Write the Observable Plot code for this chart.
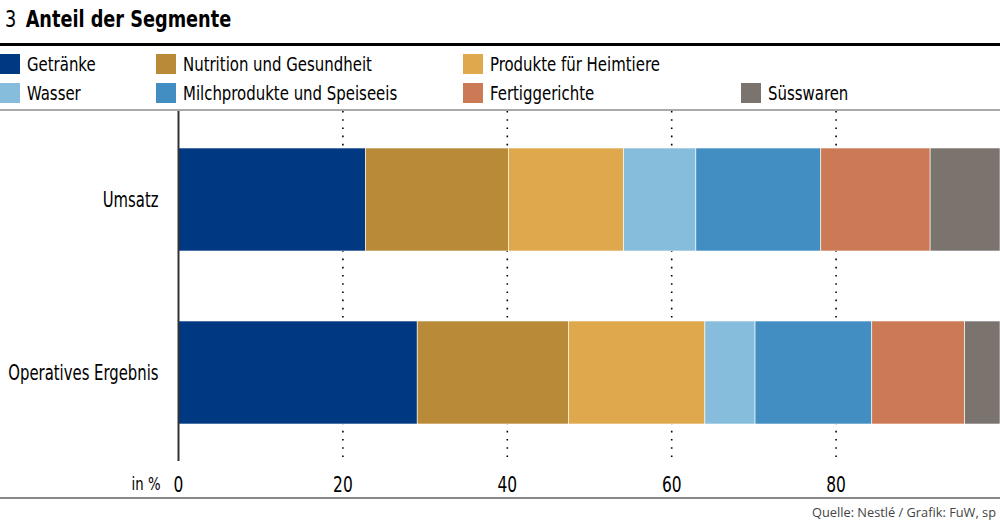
<!DOCTYPE html>
<html>
<head>
<meta charset="utf-8">
<script src="https://cdn.jsdelivr.net/npm/d3@7"></script>
<script src="https://cdn.jsdelivr.net/npm/@observablehq/plot@0.6"></script>
<style>
  html, body { margin:0; padding:0; background:#fff; }
  body { width:1000px; height:521px; overflow:hidden; font-family:"DejaVu Sans Condensed","DejaVu Sans",sans-serif; color:#000; }
  #header { position:relative; width:1000px; height:111px; }
  #title { position:absolute; left:5px; top:6px; font-size:23px; white-space:nowrap; transform:scaleX(0.855); transform-origin:left center; }
  #title b { font-weight:bold; margin-left:11px; }
  #rule { position:absolute; left:0; top:43px; width:1000px; height:3px; background:#000; }
  #rule2 { position:absolute; left:0; top:109px; width:1000px; height:2px; background:#aaa; }
  .lg { position:absolute; white-space:nowrap; font-size:20px; line-height:20px; transform:scaleX(0.83); transform-origin:left center; }
  .sw { position:absolute; width:20px; height:20px; }
  #chart svg { display:block; }
  #caption { position:relative; width:1000px; height:22px; border-top:2px solid #888; overflow:hidden; }
  #caption span { position:absolute; left:812px; top:4px; font-family:"Open Sans",sans-serif; font-size:12.8px; color:#444; white-space:nowrap; }
</style>
</head>
<body>
<div id="header">
  <div id="title">3<b>Anteil der Segmente</b></div>
  <div id="rule"></div>
  <div id="legend"></div>
  <div id="rule2"></div>
</div>
<div id="chart"></div>
<div id="caption"><span id="captext"></span></div>
<script>
const categories = ["Umsatz", "Operatives Ergebnis"];
const segments = ["Getränke", "Nutrition und Gesundheit", "Produkte für Heimtiere", "Wasser", "Milchprodukte und Speiseeis", "Fertiggerichte", "Süsswaren"];
const colors = ["#003882", "#b98a38", "#e0a84c", "#86bcdc", "#428ec3", "#cc7a55", "#7a736e"];
const umsatz = [22.8, 17.4, 14.0, 8.8, 15.2, 13.3, 8.5];
const ergebnis = [29.1, 18.4, 16.6, 6.1, 14.2, 11.3, 4.3];
const xTicks = [0, 20, 40, 60, 80];
const gridTicks = [20, 40, 60, 80];
const unitLabel = "in %";
const source = "Quelle: Nestlé / Grafik: FuW, sp";

// legend layout: [segment index, left, top]
const legendPos = [[0, 0, 54], [1, 156, 54], [2, 463, 54], [3, 0, 83], [4, 156, 83], [5, 463, 83], [6, 741, 83]];
const legend = document.getElementById("legend");
for (const [i, left, top] of legendPos) {
  const sw = document.createElement("div");
  sw.className = "sw"; sw.style.left = left + "px"; sw.style.top = top + "px"; sw.style.background = colors[i];
  const t = document.createElement("div");
  t.className = "lg"; t.style.left = (left + 27) + "px"; t.style.top = top + "px"; t.textContent = segments[i];
  legend.append(sw, t);
}
document.getElementById("captext").textContent = source;

const data = [];
categories.forEach((c, ci) => {
  const vals = ci === 0 ? umsatz : ergebnis;
  segments.forEach((s, si) => data.push({category: c, segment: s, value: vals[si]}));
});

const chart = Plot.plot({
  width: 1000,
  height: 386,
  marginLeft: 178,
  marginRight: 0,
  marginTop: 0,
  marginBottom: 36,
  style: {fontFamily: '"DejaVu Sans Condensed","DejaVu Sans",sans-serif', fontSize: "20px", color: "#000", background: "#fff"},
  x: {domain: [0, 100]},
  y: {domain: categories, paddingInner: 0.405, paddingOuter: 0.214},
  color: {domain: segments, range: colors},
  marks: [
    Plot.ruleX(gridTicks, {stroke: "#000", strokeWidth: 1.6, strokeDasharray: "1.6,6.6"}),
    Plot.barX(data, {x: "value", y: "category", fill: "segment", stroke: "#fff", strokeWidth: 0.6}),
    Plot.ruleX([0], {stroke: "#333", strokeWidth: 2}),
    Plot.axisY({tickSize: 0, tickPadding: 20, fontSize: 22, label: null}),
    Plot.axisX({ticks: xTicks, tickSize: 0, tickPadding: 15, fontSize: 22, label: null}),
    Plot.text([unitLabel], {x: 0, frameAnchor: "bottom", dx: -18, dy: 16, textAnchor: "end", lineAnchor: "top", fontSize: 18})
  ]
});

// condense SVG texts horizontally (narrow typeface look)
function condense(selector, s) {
  chart.querySelectorAll(selector).forEach(t => {
    const tr = t.getAttribute("transform") || "";
    t.setAttribute("transform", (tr + ` scale(${s},1)`).trim());
  });
}
condense('[aria-label="y-axis tick label"] text', 0.75);
condense('[aria-label="x-axis tick label"] text', 0.78);
condense('[aria-label="text"] text', 0.82);

document.getElementById("chart").append(chart);
</script>
</body>
</html>
